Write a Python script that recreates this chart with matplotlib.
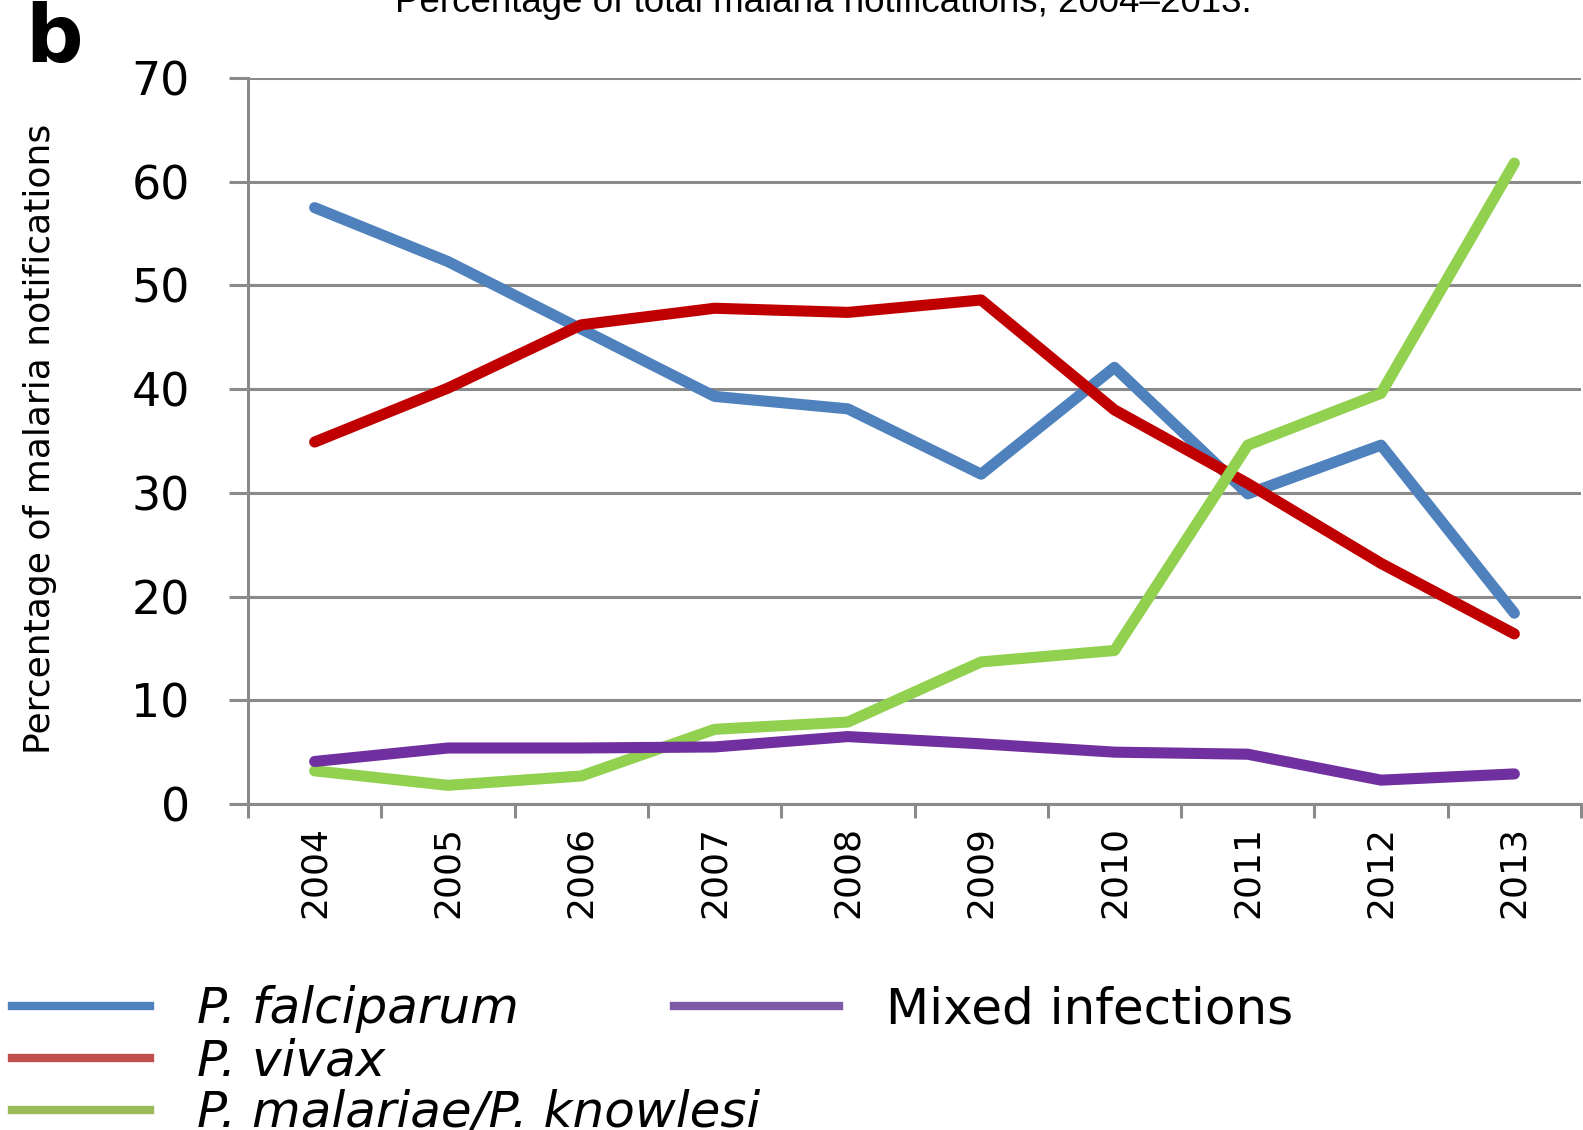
import matplotlib.pyplot as plt
from matplotlib.lines import Line2D

years = ['2004', '2005', '2006', '2007', '2008', '2009', '2010', '2011', '2012', '2013']
falciparum = [57.5, 52.3, 45.8, 39.3, 38.1, 31.8, 42.1, 29.9, 34.6, 18.4]
vivax = [34.9, 40.1, 46.2, 47.8, 47.4, 48.6, 38.0, 30.9, 23.2, 16.4]
malariae_knowlesi = [3.2, 1.8, 2.7, 7.2, 7.9, 13.7, 14.8, 34.6, 39.6, 61.8]
mixed = [4.1, 5.4, 5.4, 5.5, 6.5, 5.8, 5.0, 4.8, 2.3, 2.9]
y_ticks = [0, 10, 20, 30, 40, 50, 60, 70]

GRID = '#8a8a8a'
NARROW = ['Liberation Sans Narrow', 'DejaVu Sans Condensed', 'DejaVu Sans']

W, H = 1583, 1130
fig = plt.figure(figsize=(W / 100, H / 100), dpi=100)
ax = fig.add_axes([248 / W, 1 - 804 / H, (1581 - 248) / W, (804 - 78) / H])

x = list(range(len(years)))
series = [
    (falciparum, '#4f81bd'),
    (vivax, '#c00000'),
    (malariae_knowlesi, '#92d050'),
    (mixed, '#7030a0'),
]
for vals, col in series:
    ax.plot(x, vals, color=col, lw=8, solid_capstyle='round',
            solid_joinstyle='round', clip_on=False, zorder=3)

ax.set_xlim(-0.5, len(years) - 0.5)
ax.set_ylim(0, 70)
ax.set_yticks(y_ticks)
ax.set_yticklabels([str(v) for v in y_ticks], fontsize=33, family='DejaVu Sans')
ax.yaxis.grid(True, color=GRID, lw=2.2)
ax.set_axisbelow(True)
ax.tick_params(axis='y', direction='out', length=14, width=2.2, color=GRID, pad=28)

ax.set_xticks(x)
ax.set_xticklabels(years, rotation=90, fontsize=26, family=NARROW)
ax.set_xticks([v - 0.5 for v in range(len(years) + 1)], minor=True)
ax.tick_params(axis='x', which='major', length=0, pad=16)
ax.tick_params(axis='x', which='minor', direction='out', length=10, width=2.2, color=GRID)

for s in ['top', 'right']:
    ax.spines[s].set_visible(False)
for s in ['left', 'bottom']:
    ax.spines[s].set_color(GRID)
    ax.spines[s].set_linewidth(2.2)

fig.text(40 / W, 1 - 439 / H, 'Percentage of malaria notifications',
         rotation=90, ha='center', va='center', fontsize=26, family=NARROW)

fig.text(823 / W, 1 - 12 / H, 'Percentage of total malaria notifications, 2004\u20132013.',
         ha='center', va='baseline', fontsize=26.5, family='Liberation Sans')

fig.text(25 / W, 1 - 62 / H, 'b', ha='left', va='baseline', fontsize=58,
         fontweight='bold', family='DejaVu Sans')

# legend, laid out like the Excel one: three rows on the left, one on the right
leg_cols = ['#4f81bd', '#c0504d', '#9bbb59', '#7d5ba6']
handles = [Line2D([], [], color=c, lw=6) for c in leg_cols]
leg1 = fig.legend(handles[:3], ['P. falciparum', 'P. vivax', 'P. malariae/P. knowlesi'],
                  loc='upper left', bbox_to_anchor=(12 / W, 1 - 985 / H),
                  frameon=False, borderpad=0, borderaxespad=0, handlelength=2.75,
                  handletextpad=0.95, labelspacing=0.08,
                  prop={'family': 'DejaVu Sans', 'style': 'italic', 'size': 36})
leg2 = fig.legend(handles[3:], ['Mixed infections'],
                  loc='upper left', bbox_to_anchor=(674 / W, 1 - 985 / H),
                  frameon=False, borderpad=0, borderaxespad=0, handlelength=3.3,
                  handletextpad=0.95,
                  prop={'family': 'DejaVu Sans', 'size': 36})

fig.savefig('out.png', dpi=100)
